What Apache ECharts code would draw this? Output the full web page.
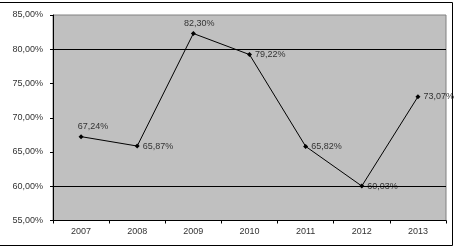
<!DOCTYPE html>
<html><head><meta charset="utf-8">
<script src="https://cdn.jsdelivr.net/npm/echarts@6/dist/echarts.min.js"></script>
<style>html,body{margin:0;padding:0;background:#fff}#c{width:458px;height:249px}</style>
</head><body><div id="c"></div>
<script>
const categories = ['2007','2008','2009','2010','2011','2012','2013'];
const values = [67.24, 65.87, 82.30, 79.22, 65.82, 60.03, 73.07];
const gridLineValues = [60, 80];
const labelPlacement = ['top','right','top','right','right','right','right'];
const labelShift = [[12,0],[0,0],[6,0],[0,0],[0,0],[0,0],[0,0]];

const fmt = v => v.toFixed(2).replace('.', ',') + '%';
const font = 'Liberation Sans';
const chart = echarts.init(document.getElementById('c'));
chart.setOption({
  animation: false,
  graphic: [{type:'rect', shape:{x:-1.5,y:2.5,width:454,height:243}, style:{fill:'none',stroke:'#000',lineWidth:1}, z:-1}],
  grid: {left:53, right:12, top:15, bottom:28.5, show:true, backgroundColor:'#c0c0c0', borderColor:'#808080', borderWidth:1},
  xAxis: {type:'category', data:categories, boundaryGap:true,
    axisLine:{lineStyle:{color:'#000',width:1}},
    axisTick:{show:true,length:3,lineStyle:{color:'#000'}},
    axisLabel:{fontFamily:font,fontSize:9,color:'#333',margin:7}},
  yAxis: {type:'value', min:55, max:85, interval:5,
    axisLine:{show:true,lineStyle:{color:'#000',width:1}},
    axisTick:{show:true,length:3,lineStyle:{color:'#000'}},
    splitLine:{show:false},
    axisLabel:{fontFamily:font,fontSize:9,color:'#333',margin:10,formatter:fmt}},
  series: [{type:'line', symbol:'diamond', symbolSize:5,
    itemStyle:{color:'#000'}, lineStyle:{color:'#000',width:1},
    data: values.map((v,i)=>({value:v, label:{show:true, position:labelPlacement[i], offset:labelShift[i], distance:3,
      formatter:p=>fmt(p.value), fontFamily:font, fontSize:9, color:'#333'}})),
    markLine:{silent:true, symbol:'none', label:{show:false}, lineStyle:{color:'#000',type:'solid',width:1},
      data: gridLineValues.map(v=>({yAxis:v}))}
  }]
});
</script></body></html>
